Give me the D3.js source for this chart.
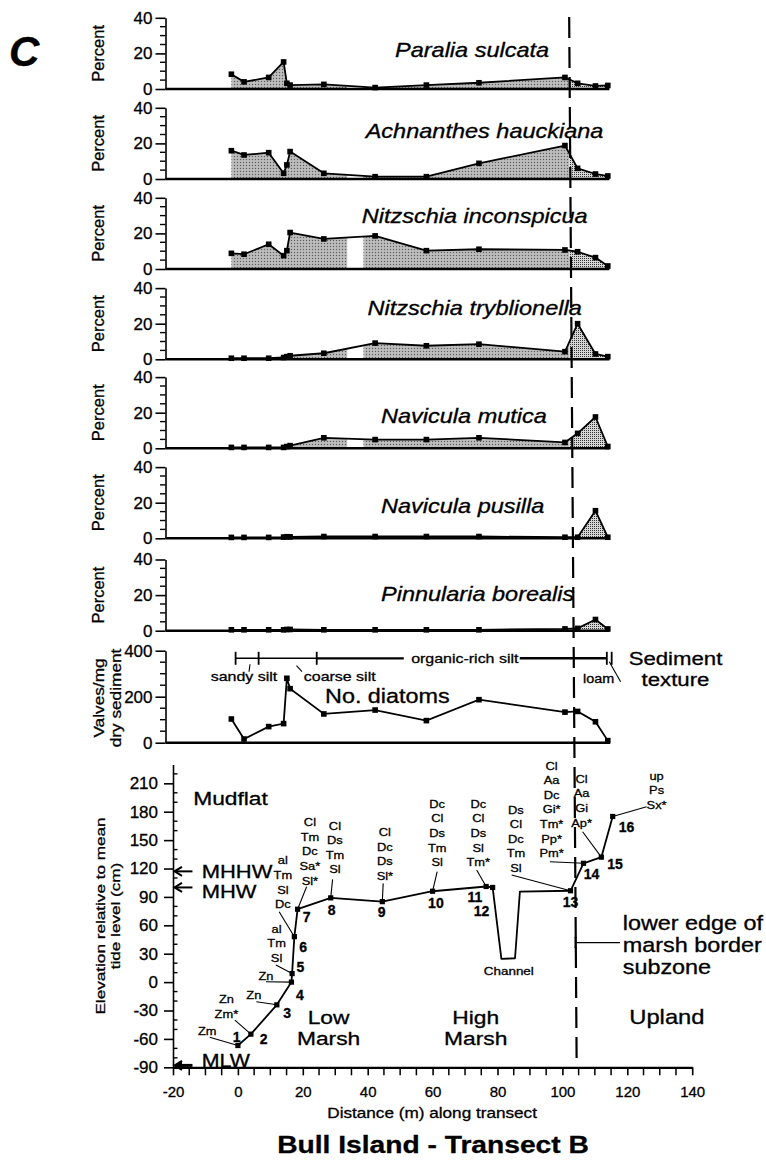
<!DOCTYPE html>
<html><head><meta charset="utf-8">
<script src="https://cdn.jsdelivr.net/npm/d3@7"></script>
<style>
body{margin:0;background:#fff;}
svg text{font-family:"Liberation Sans",Arial,Helvetica,sans-serif;fill:#000;stroke:#000;stroke-width:0.3px;}
</style></head><body>
<svg id="chart" width="766" height="1162"></svg>
<script>
// ---------------- DATA ----------------
const sampleDist = [0.3, 4.2, 11.8, 16.4, 17.4, 18.4, 28.8, 44.6, 60.4, 76.6, 103.1, 107, 112.5, 116.3];
const speciesNames = ["Paralia sulcata","Achnanthes hauckiana","Nitzschia inconspicua","Nitzschia tryblionella","Navicula mutica","Navicula pusilla","Pinnularia borealis"];
const paraliaSulcata        = [8.3, 4, 6.5, 15.2, 3.2, 2.2, 2.6, 0.8, 2.2, 3.5, 6.5, 3.2, 1.7, 2];
const achnanthesHauckiana   = [15.9, 13.5, 14.8, 3.2, 7.9, 15.4, 3.2, 1.3, 1.3, 8.8, 18.8, 6, 2.8, 1.7];
const nitzschiaInconspicua  = [8.8, 8.3, 13.9, 7.5, 10.3, 20.5, 16.9, 18.6, 10.3, 11.1, 10.7, 9.7, 6.4, 1.7];
const nitzschiaTryblionella = [0.6, 0.6, 0.6, 1, 1.5, 2, 3.4, 9.1, 7.6, 8.5, 4.3, 20, 3, 1.5];
const naviculaMutica        = [0.5, 0.5, 0.5, 0.5, 1, 1.5, 5.9, 4.9, 4.9, 5.9, 3.3, 8.4, 17.6, 1];
const naviculaPusilla       = [0.5, 0.5, 0.5, 0.7, 0.9, 0.8, 1, 1, 1, 1, 0.6, 0.6, 15.5, 0.6];
const pinnulariaBorealis    = [0.5, 0.5, 0.5, 0.5, 0.7, 0.7, 0.5, 0.5, 0.5, 0.5, 1, 1.3, 6.3, 1];
const valvesPerMg = [103, 16, 70, 83, 280, 235, 125, 142, 96, 187, 133, 136, 91, 9];

const stationNum  = [1,2,3,4,5,6,7,8,9,10,11,12,13,14,15,16];
const stationDist = [0, 4, 12, 16.5, 16.7, 17.4, 18.4, 28.6, 44.5, 60, 76.5, 78.5, 102.5, 106.5, 112, 115.5];
const stationElev = [-67, -55, -24, 0, 9, 48, 77, 89, 85, 96, 101, 100, 96.5, 125.5, 132, 175];
const stationCodes = [
  ["Zm"], ["Zn","Zm*"], ["Zn"], ["Zn"], ["al","Tm","Sl"], ["al","Tm","Sl","Dc"],
  ["Cl","Tm","Dc","Sa*","Sl*"], ["Cl","Ds","Tm","Sl"], ["Cl","Dc","Ds","Sl*"],
  ["Dc","Cl","Ds","Tm","Sl"], ["Dc","Cl","Ds","Sl","Tm*"], [],
  ["Ds","Cl","Dc","Tm","Sl"], ["Cl","Aa","Dc","Gi*","Tm*","Pp*","Pm*"], ["Cl","Aa","Gi","Ap*"], ["up","Ps","Sx*"]
];
const channelDist = [81.2, 85.4, 86.9];
const channelElev = [24.5, 25.2, 95.5];

const tideNames = ["MHHW","MHW","MLW"];
const tideElev  = [117, 100, -88];

const percentTicks = [0, 20, 40];
const valvesTicks  = [0, 200, 400];
const elevTicks    = [-90, -60, -30, 0, 30, 60, 90, 120, 150, 180, 210];
const distTicks    = [-20, 0, 20, 40, 60, 80, 100, 120, 140];

const textureBounds = [1.6, 8.7, 26.6, 116, 117.5];
const textureNames  = ["sandy silt", "coarse silt", "organic-rich silt", "loam"];
const zoneNames = [["Mudflat"], ["Low","Marsh"], ["High","Marsh"], ["Upland"]];
const borderDist = 104.4;
const shadeGap = [36, 41];

// ---------------- LAYOUT ----------------
const svg = d3.select("#chart");
const xT = d3.scaleLinear().domain([-20, 140]).range([165.5, 684.7]);
const xB = d3.scaleLinear().domain([-20, 140]).range([173, 692.2]);
const yE = d3.scaleLinear().domain([-90, 230]).range([1067.3, 764.4]);
const panelBottoms = [89, 179, 269, 359.3, 448.3, 538.3, 630.7];
const panelH = 71.2;
const nameLayout = [[395,57.3],[365.7,138.3],[361.7,223.3],[367.6,315],[381,423],[381,513],[381,601]];
const plainFmt = d => String(d);
const WIDE = 1.2; // the original lettering is wider than Arial

const defs = svg.append("defs");
const pg = defs.append("pattern").attr("id","pGray").attr("width",3).attr("height",3).attr("patternUnits","userSpaceOnUse");
pg.append("rect").attr("width",3).attr("height",3).attr("fill","#b3b3b3");
pg.append("rect").attr("x",0).attr("y",0).attr("width",1).attr("height",1).attr("fill","#5e5e5e");
pg.append("rect").attr("x",1.5).attr("y",1.5).attr("width",1).attr("height",1).attr("fill","#dadada");
const ps = defs.append("pattern").attr("id","pStip").attr("width",2).attr("height",2).attr("patternUnits","userSpaceOnUse");
ps.append("rect").attr("width",2).attr("height",2).attr("fill","#d6d6d6");
ps.append("rect").attr("width",1).attr("height",1).attr("fill","#333");
const cl = defs.append("clipPath").attr("id","clipL");
cl.append("rect").attr("x",0).attr("y",0).attr("width",xT(shadeGap[0])).attr("height",760);
cl.append("rect").attr("x",xT(shadeGap[1])).attr("y",0).attr("width",xT(borderDist)-xT(shadeGap[1])).attr("height",760);
defs.append("clipPath").attr("id","clipR").append("rect")
  .attr("x",xT(borderDist)).attr("y",0).attr("width",200).attr("height",760);

function styleAxis(g, fs) {
  g.selectAll("path,line").attr("stroke","#000").attr("stroke-width",1.6);
  g.selectAll("text").attr("font-family",'"Liberation Sans", Arial, sans-serif').attr("font-size",fs).attr("fill","#000");
}
function minorTicks(g, x0, ys, len) {
  g.selectAll(null).data(ys).enter().append("line")
    .attr("x1", x0).attr("x2", x0 + len).attr("y1", d => d).attr("y2", d => d)
    .attr("stroke","#000").attr("stroke-width",1.4);
}
// text helper: one text element, one tspan per line, optional horizontal widening / rotation
function T(g, x, y, lines, o) {
  const sx = o.sx || 1;
  const t = g.append("text")
    .attr("transform", `translate(${x},${y})${o.rot ? " rotate(" + o.rot + ")" : ""} scale(${sx},1)`)
    .attr("font-size", o.fs).attr("text-anchor", o.anchor || "middle");
  if (o.weight) t.attr("font-weight", o.weight);
  if (o.style) t.attr("font-style", o.style);
  lines.forEach((s, k) => t.append("tspan").attr("x", 0).attr("dy", k === 0 ? 0 : o.lh).text(s));
  return t;
}

// ---------------- SPECIES PANELS ----------------
const speciesValues = [paraliaSulcata, achnanthesHauckiana, nitzschiaInconspicua, nitzschiaTryblionella, naviculaMutica, naviculaPusilla, pinnulariaBorealis];
speciesNames.forEach((name, i) => {
  const vals = speciesValues[i];
  const y = d3.scaleLinear().domain([0, 40]).range([panelBottoms[i], panelBottoms[i] - panelH]);
  const g = svg.append("g");
  const area = d3.area().x((d, j) => xT(sampleDist[j])).y0(y(0)).y1(d => y(d));
  g.append("path").datum(vals).attr("d", area).attr("fill","url(#pGray)").attr("clip-path","url(#clipL)");
  g.append("path").datum(vals).attr("d", area).attr("fill","url(#pStip)").attr("clip-path","url(#clipR)");
  g.append("line").attr("x1", xT(-20)).attr("x2", xT(116.8)).attr("y1", y(0)).attr("y2", y(0))
    .attr("stroke","#000").attr("stroke-width",2.4);
  const ax = g.append("g").attr("transform",`translate(${xT(-20)},0)`)
    .call(d3.axisLeft(y).tickValues(percentTicks).tickFormat(plainFmt).tickSize(10).tickSizeOuter(0).tickPadding(3));
  styleAxis(ax, 17);
  minorTicks(g, xT(-20), [5,10,15,25,30,35].map(y), -5.5);
  const line = d3.line().x((d, j) => xT(sampleDist[j])).y(d => y(d));
  g.append("path").datum(vals).attr("d", line).attr("fill","none").attr("stroke","#000").attr("stroke-width",1.8).attr("stroke-linejoin","round");
  g.selectAll(null).data(vals).enter().append("rect")
    .attr("x", (d, j) => xT(sampleDist[j]) - 2.8).attr("y", d => y(d) - 2.8)
    .attr("width", 5.6).attr("height", 5.6).attr("fill","#000");
  T(g, nameLayout[i][0], nameLayout[i][1], [name], {fs: 19.6, sx: WIDE, anchor: "start", style: "italic"});
  T(g, 104, (y(0) + y(40)) / 2, ["Percent"], {fs: 16.5, rot: -90});
});

// ---------------- VALVES PANEL ----------------
{
  const y = d3.scaleLinear().domain([0, 400]).range([742.7, 650.7]);
  const g = svg.append("g");
  g.append("line").attr("x1", xT(-20)).attr("x2", xT(117)).attr("y1", y(0)).attr("y2", y(0))
    .attr("stroke","#000").attr("stroke-width",2.4);
  const ax = g.append("g").attr("transform",`translate(${xT(-20)},0)`)
    .call(d3.axisLeft(y).tickValues(valvesTicks).tickFormat(plainFmt).tickSize(10).tickSizeOuter(0).tickPadding(3));
  styleAxis(ax, 17);
  minorTicks(g, xT(-20), [50,100,150,250,300,350].map(y), -5.5);
  const line = d3.line().x((d, j) => xT(sampleDist[j])).y(d => y(d));
  g.append("path").datum(valvesPerMg).attr("d", line).attr("fill","none").attr("stroke","#000").attr("stroke-width",1.8);
  g.selectAll(null).data(valvesPerMg).enter().append("rect")
    .attr("x", (d, j) => xT(sampleDist[j]) - 2.8).attr("y", d => y(d) - 2.8)
    .attr("width", 5.6).attr("height", 5.6).attr("fill","#000");
  T(g, 104, 698, ["Valves/mg", "dry sediment"], {fs: 15, sx: 1.15, lh: 17, rot: -90});
  T(g, 325, 703.3, ["No. diatoms"], {fs: 19.5, sx: WIDE, anchor: "start"});

  // sediment texture bar
  const ty = 658.3;
  const mid = (textureBounds[2] + textureBounds[3]) / 2;
  g.append("line").attr("x1", xT(textureBounds[0])).attr("x2", xT(textureBounds[2])).attr("y1", ty).attr("y2", ty)
    .attr("stroke","#000").attr("stroke-width",1.5);
  g.append("line").attr("x1", xT(textureBounds[2])).attr("x2", xT(mid) - 58).attr("y1", ty).attr("y2", ty)
    .attr("stroke","#000").attr("stroke-width",2.2);
  g.append("line").attr("x1", xT(mid) + 58).attr("x2", xT(textureBounds[3])).attr("y1", ty).attr("y2", ty)
    .attr("stroke","#000").attr("stroke-width",2.4);
  g.selectAll(null).data(textureBounds).enter().append("line")
    .attr("x1", d => xT(d)).attr("x2", d => xT(d)).attr("y1", ty - 6.5).attr("y2", ty + 6.5)
    .attr("stroke","#000").attr("stroke-width",1.8);
  T(g, xT(mid) + 3, ty + 5, [textureNames[2]], {fs: 13.3, sx: WIDE});
  const lab = [[textureNames[0], 244, 681, [250,664.3,249,671.7]], [textureNames[1], 339.7, 681, [296.5,665.7,302,671.7]], [textureNames[3], 598.6, 682.5, [609.3,661.7,620.6,681.7]]];
  lab.forEach(l => {
    T(g, l[1], l[2], [l[0]], {fs: l[0] === "loam" ? 12 : 13.3, sx: WIDE});
    g.append("line").attr("x1", l[3][0]).attr("y1", l[3][1]).attr("x2", l[3][2]).attr("y2", l[3][3]).attr("stroke","#000").attr("stroke-width",1.1);
  });
  T(g, 675.5, 665, ["Sediment", "texture"], {fs: 18.5, sx: WIDE, lh: 21});
}

// ---------------- ELEVATION PANEL ----------------
{
  const g = svg.append("g");
  const ay = g.append("g").attr("transform",`translate(${xB(-20)},0)`)
    .call(d3.axisLeft(yE).tickValues(elevTicks).tickFormat(plainFmt).tickSize(9).tickSizeOuter(0).tickPadding(6));
  styleAxis(ay, 17);
  minorTicks(g, xB(-20), d3.range(-80, 230, 10).filter(v => v % 30 !== 0).map(yE), 4.5);
  const axb = g.append("g").attr("transform",`translate(0,${yE(-90)})`)
    .call(d3.axisBottom(xB).tickValues(distTicks).tickFormat(plainFmt).tickSize(8).tickSizeOuter(0).tickPadding(11));
  styleAxis(axb, 15);
  axb.select(".domain").attr("stroke-width",2.2);
  g.selectAll(null).data(d3.range(-15, 140, 5).filter(v => v % 20 !== 0)).enter().append("line")
    .attr("x1", d => xB(d)).attr("x2", d => xB(d)).attr("y1", yE(-90)).attr("y2", yE(-90) + 8)
    .attr("stroke","#000").attr("stroke-width",1.5);

  T(g, 104.5, 916, ["Elevation relative to mean", "tide level (cm)"], {fs: 13.5, sx: 1.27, lh: 15.2, rot: -90});
  T(g, (xB(-20) + xB(140)) / 2 - 0.5, 1118, ["Distance (m) along transect"], {fs: 14.3, sx: WIDE});
  T(g, 433, 1153, ["Bull Island - Transect B"], {fs: 23.5, sx: WIDE, weight: "bold"});

  // tide arrows
  const tideTextY = [877.5, 898, 1066.7];
  tideNames.forEach((t, i) => {
    const yy = yE(tideElev[i]);
    const sw = t === "MLW" ? 3 : 2;
    g.append("line").attr("x1", xB(-20) + 3).attr("x2", xB(-14)).attr("y1", yy).attr("y2", yy).attr("stroke","#000").attr("stroke-width", sw);
    g.append("path").attr("d", `M${xB(-20)+9},${yy-4.5} L${xB(-20)+1.5},${yy} L${xB(-20)+9},${yy+4.5}`)
      .attr("fill", t === "MLW" ? "#000" : "none").attr("stroke","#000").attr("stroke-width",2);
    T(g, 201.7, tideTextY[i], [t], {fs: t === "MLW" ? 17.8 : 18.3, sx: WIDE, anchor: "start"});
  });

  // profile
  const profD = stationDist.slice(0, 12).concat(channelDist, stationDist.slice(12));
  const profE = stationElev.slice(0, 12).concat(channelElev, stationElev.slice(12));
  g.append("path").datum(profD).attr("d", d3.line().x(d => xB(d)).y((d, j) => yE(profE[j])))
    .attr("fill","none").attr("stroke","#000").attr("stroke-width",1.8).attr("stroke-linejoin","round");
  g.selectAll(null).data(stationDist).enter().append("rect")
    .attr("x", d => xB(d) - 2.6).attr("y", (d, j) => yE(stationElev[j]) - 2.6)
    .attr("width", 5.2).attr("height", 5.2).attr("fill","#000");

  // station numbers
  const numOff = [[-1.3,-3.2],[12.7,10.1],[10.3,13.5],[8.5,17.9],[8.3,-1.3],[8.8,15],[9,12.5],[0.9,17.2],[-0.7,15.7],[3.3,16.5],[-11.2,15.2],[-11,28.6],[0.1,16],[8.1,16.1],[13.6,11.9],[13.9,15.3]];
  stationNum.forEach((n, j) => {
    g.append("text").attr("x", xB(stationDist[j]) + numOff[j][0]).attr("y", yE(stationElev[j]) + numOff[j][1])
      .attr("text-anchor","middle").attr("font-size",14).attr("font-weight","bold").text(n);
  });
  // species code stacks: [cx, first baseline, leader x, leader y] offsets from the station
  const codeOff = [[-30.7,-10.5,-28.2,-8.2],[-24.5,-30.9,-16,-14],[-23,-6,-20.5,-3.1],[-25.5,-2.6,-25.5,-0.4],
    [-15.5,-40.8,-16.2,-8.6],[-11.5,-72.2,-15.2,-25],[12.3,-83,9,-22.5],[4.2,-68.3,1.9,-18.5],[2.6,-65.4,0.9,-18.3],
    [4.6,-83.4,4.6,-19.5],[-7.9,-78.7,-9.5,-16.5],null,[-54.6,-77.2,-58.9,-15.7],[-31.9,-93.7,-33.6,-1.5],
    [-19.7,-74.3,-18.7,-25.4],[43.9,-36.9,33.9,-9.7]];
  stationCodes.forEach((codes, j) => {
    const o = codeOff[j];
    if (!o) return;
    const sx = xB(stationDist[j]), sy = yE(stationElev[j]);
    T(g, sx + o[0], sy + o[1], codes, {fs: 11.5, sx: 1.12, lh: 14.6});
    g.append("line").attr("x1", sx + o[2]).attr("y1", sy + o[3]).attr("x2", sx).attr("y2", sy)
      .attr("stroke","#000").attr("stroke-width",1.1);
  });

  // zone labels
  const zonePos = [[230.5, 805], [328.6, 1023.5], [475.7, 1023.5], [666.9, 1023.5]];
  zoneNames.forEach((z, i) => T(g, zonePos[i][0], zonePos[i][1], z, {fs: i === 3 ? 19.8 : 19, sx: WIDE, lh: 21.3}));
  T(g, 508.8, 975, ["Channel"], {fs: 11.2, sx: WIDE});

  // marsh border annotation
  T(g, 622.7, 930, ["lower edge of", "marsh border", "subzone"], {fs: 19.5, sx: WIDE, lh: 22, anchor: "start"});
  g.append("line").attr("x1", xB(borderDist)).attr("x2", 620).attr("y1", 942.7).attr("y2", 942.7).attr("stroke","#000").attr("stroke-width",1.2);
  g.append("line").attr("x1", xB(borderDist) - 1).attr("x2", xB(borderDist) - 1).attr("y1", 937).attr("y2", 948).attr("stroke","#000").attr("stroke-width",2.4);
}

// dashed border line through all panels
svg.append("line").attr("x1", xT(borderDist)).attr("y1", 17).attr("x2", xB(borderDist)).attr("y2", 1067.3)
  .attr("stroke","#000").attr("stroke-width",2.2).attr("stroke-dasharray","21,9");

// panel letter
svg.append("text").attr("x", 9).attr("y", 66).attr("font-size", 42).attr("font-weight","bold").attr("font-style","italic").text("C");
</script>
</body></html>
